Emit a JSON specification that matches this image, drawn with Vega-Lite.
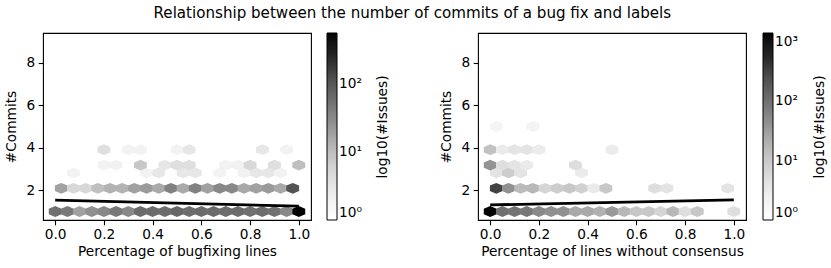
{
  "$schema": "https://vega.github.io/schema/vega-lite/v6.json",
  "background": "white",
  "padding": {"left": 4, "top": 6, "right": 5, "bottom": 5},
  "title": {"text": "Relationship between the number of commits of a bug fix and labels", "anchor": "middle", "dx": -3, "offset": 11},
  "datasets": {
    "hexL": [
      {"x":0,"y":1,"n":56},{"x":0.05,"y":1,"n":45},{"x":0.1,"y":1,"n":19},{"x":0.15,"y":1,"n":27},{"x":0.2,"y":1,"n":32},{"x":0.25,"y":1,"n":45},{"x":0.3,"y":1,"n":32},{"x":0.35,"y":1,"n":63},{"x":0.4,"y":1,"n":63},{"x":0.45,"y":1,"n":60},{"x":0.5,"y":1,"n":70},{"x":0.55,"y":1,"n":60},{"x":0.6,"y":1,"n":63},{"x":0.65,"y":1,"n":63},{"x":0.7,"y":1,"n":60},{"x":0.75,"y":1,"n":63},{"x":0.8,"y":1,"n":56},{"x":0.85,"y":1,"n":60},{"x":0.9,"y":1,"n":56},{"x":0.95,"y":1,"n":32},{"x":1,"y":1,"n":560},
      {"x":0.025,"y":2.0909,"n":19},{"x":0.075,"y":2.0909,"n":5},{"x":0.125,"y":2.0909,"n":5},{"x":0.175,"y":2.0909,"n":10},{"x":0.225,"y":2.0909,"n":13},{"x":0.275,"y":2.0909,"n":13},{"x":0.325,"y":2.0909,"n":19},{"x":0.375,"y":2.0909,"n":22},{"x":0.425,"y":2.0909,"n":16},{"x":0.475,"y":2.0909,"n":38},{"x":0.525,"y":2.0909,"n":16},{"x":0.575,"y":2.0909,"n":38},{"x":0.625,"y":2.0909,"n":19},{"x":0.675,"y":2.0909,"n":32},{"x":0.725,"y":2.0909,"n":32},{"x":0.775,"y":2.0909,"n":16},{"x":0.825,"y":2.0909,"n":19},{"x":0.875,"y":2.0909,"n":22},{"x":0.925,"y":2.0909,"n":16},{"x":0.975,"y":2.0909,"n":110},
      {"x":0.075,"y":2.8182,"n":2},{"x":0.375,"y":2.8182,"n":2},{"x":0.425,"y":2.8182,"n":3},{"x":0.525,"y":2.8182,"n":3},{"x":0.575,"y":2.8182,"n":3},{"x":0.675,"y":2.8182,"n":2},{"x":0.775,"y":2.8182,"n":2},{"x":0.825,"y":2.8182,"n":3},{"x":0.875,"y":2.8182,"n":3},{"x":0.925,"y":2.8182,"n":2},
      {"x":0.2,"y":3.1818,"n":2},{"x":0.25,"y":3.1818,"n":2},{"x":0.35,"y":3.1818,"n":8},{"x":0.45,"y":3.1818,"n":3},{"x":0.5,"y":3.1818,"n":4},{"x":0.55,"y":3.1818,"n":4},{"x":0.7,"y":3.1818,"n":2},{"x":0.75,"y":3.1818,"n":2},{"x":0.8,"y":3.1818,"n":5},{"x":0.9,"y":3.1818,"n":4},{"x":1,"y":3.1818,"n":10},
      {"x":0.2,"y":3.9091,"n":4},{"x":0.3,"y":3.9091,"n":2},{"x":0.35,"y":3.9091,"n":2},{"x":0.5,"y":3.9091,"n":2},{"x":0.55,"y":3.9091,"n":3},{"x":0.85,"y":3.9091,"n":3},{"x":0.95,"y":3.9091,"n":2}
    ],
    "hexR": [
      {"x":0,"y":1,"n":1400},{"x":0.05,"y":1,"n":100},{"x":0.1,"y":1,"n":90},{"x":0.15,"y":1,"n":83},{"x":0.2,"y":1,"n":52},{"x":0.25,"y":1,"n":43},{"x":0.3,"y":1,"n":43},{"x":0.35,"y":1,"n":24},{"x":0.4,"y":1,"n":24},{"x":0.45,"y":1,"n":20},{"x":0.5,"y":1,"n":35},{"x":0.55,"y":1,"n":17},{"x":0.6,"y":1,"n":11},{"x":0.65,"y":1,"n":11},{"x":0.7,"y":1,"n":7},{"x":0.75,"y":1,"n":17},{"x":0.8,"y":1,"n":5},{"x":0.85,"y":1,"n":11},{"x":1,"y":1,"n":5},
      {"x":0.025,"y":2.0909,"n":310},{"x":0.075,"y":2.0909,"n":43},{"x":0.125,"y":2.0909,"n":16},{"x":0.175,"y":2.0909,"n":17},{"x":0.225,"y":2.0909,"n":7},{"x":0.275,"y":2.0909,"n":9},{"x":0.325,"y":2.0909,"n":11},{"x":0.375,"y":2.0909,"n":8},{"x":0.425,"y":2.0909,"n":3},{"x":0.475,"y":2.0909,"n":11},{"x":0.675,"y":2.0909,"n":5},{"x":0.725,"y":2.0909,"n":4},{"x":0.975,"y":2.0909,"n":4},
      {"x":0.025,"y":2.8182,"n":4},{"x":0.075,"y":2.8182,"n":9},{"x":0.125,"y":2.8182,"n":4},{"x":0.375,"y":2.8182,"n":3},
      {"x":0,"y":3.1818,"n":40},{"x":0.05,"y":3.1818,"n":5},{"x":0.1,"y":3.1818,"n":4},{"x":0.15,"y":3.1818,"n":3},{"x":0.35,"y":3.1818,"n":5},
      {"x":0,"y":3.9091,"n":13},{"x":0.05,"y":3.9091,"n":3},{"x":0.1,"y":3.9091,"n":4},{"x":0.15,"y":3.9091,"n":4},{"x":0.2,"y":3.9091,"n":3},{"x":0.5,"y":3.9091,"n":3},
      {"x":0.025,"y":5,"n":2},{"x":0.175,"y":5,"n":2}
    ],
    "fitL": [{"x":0,"y":1.54},{"x":1,"y":1.25}],
    "fitR": [{"x":0,"y":1.31},{"x":1,"y":1.55}]
  },
  "hconcat": [
    {
      "width": 268, "height": 187,
      "encoding": {
        "x": {"field": "x", "type": "quantitative", "title": "Percentage of bugfixing lines", "scale": {"domain": [-0.05, 1.05], "nice": false, "zero": false}, "axis": {"values": [0,0.2,0.4,0.6,0.8,1], "format": ".1f"}}
      },
      "layer": [
        {
          "data": {"name": "hexL"},
          "mark": {"type": "point", "shape": "M1,-0.424L1,0.424L0,0.846L-1,0.424L-1,-0.424L0,-0.846Z", "filled": true, "opacity": 1, "size": 164, "strokeWidth": 0},
          "encoding": {
            "y": {"field": "y", "type": "quantitative", "title": "#Commits", "scale": {"domain": [0.6, 9.4], "nice": false, "zero": false}, "axis": {"values": [2,4,6,8], "orient": "left"}},
            "color": {"field": "n", "type": "quantitative",
              "scale": {"type": "log", "domain": [1, 2.206, 4.864, 10.73, 23.66, 52.19, 115.1, 253.8, 560], "range": ["#ffffff","#f0f0f0","#d9d9d9","#bdbdbd","#969696","#737373","#525252","#252525","#000000"]},
              "legend": {"orient": "none", "legendX": 284, "legendY": 0, "direction": "vertical", "gradientLength": 187, "gradientThickness": 10, "values": [1, 10, 100], "labelExpr": "datum.value == 1 ? '10⁰' : datum.value == 10 ? '10¹' : datum.value == 100 ? '10²' : '10³'", "title": null}}
          }
        },
        {"data": {"name": "fitL"}, "mark": {"type": "line", "color": "black", "strokeWidth": 2.8},
          "encoding": {
            "y": {"field": "y", "type": "quantitative", "scale": {"domain": [0.6, 9.4], "nice": false, "zero": false},
              "axis": {"orient": "right", "title": "log10(#Issues)", "labels": false, "ticks": false, "domain": false, "grid": false, "titleAngle": 270, "titleBaseline": "top", "titlePadding": 64}}
          }},
        {"data": {"values": [{"label": "r=-0.12"}]}, "mark": {"type": "text", "align": "right", "baseline": "alphabetic", "fontSize": 13.7, "color": "black"},
          "encoding": {"x": {"datum": 1.018}, "y": {"datum": 8.48, "scale": {"domain": [0.6, 9.4], "nice": false, "zero": false}, "axis": null}, "text": {"field": "label"}}}
      ],
      "resolve": {"scale": {"y": "independent"}, "axis": {"y": "independent"}}
    },
    {
      "width": 268, "height": 187,
      "encoding": {
        "x": {"field": "x", "type": "quantitative", "title": "Percentage of lines without consensus", "scale": {"domain": [-0.05, 1.05], "nice": false, "zero": false}, "axis": {"values": [0,0.2,0.4,0.6,0.8,1], "format": ".1f"}}
      },
      "layer": [
        {
          "data": {"name": "hexR"},
          "mark": {"type": "point", "shape": "M1,-0.424L1,0.424L0,0.846L-1,0.424L-1,-0.424L0,-0.846Z", "filled": true, "opacity": 1, "size": 164, "strokeWidth": 0},
          "encoding": {
            "y": {"field": "y", "type": "quantitative", "title": "#Commits", "scale": {"domain": [0.6, 9.4], "nice": false, "zero": false}, "axis": {"values": [2,4,6,8], "orient": "left"}},
            "color": {"field": "n", "type": "quantitative",
              "scale": {"type": "log", "domain": [1, 2.473, 6.115, 15.12, 37.4, 92.5, 228.7, 565.6, 1400], "range": ["#ffffff","#f0f0f0","#d9d9d9","#bdbdbd","#969696","#737373","#525252","#252525","#000000"]},
              "legend": {"orient": "none", "legendX": 285, "legendY": 0, "direction": "vertical", "gradientLength": 187, "gradientThickness": 10, "values": [1, 10, 100, 1000], "labelExpr": "datum.value == 1 ? '10⁰' : datum.value == 10 ? '10¹' : datum.value == 100 ? '10²' : '10³'", "title": null}}
          }
        },
        {"data": {"name": "fitR"}, "mark": {"type": "line", "color": "black", "strokeWidth": 2.8},
          "encoding": {
            "y": {"field": "y", "type": "quantitative", "scale": {"domain": [0.6, 9.4], "nice": false, "zero": false},
              "axis": {"orient": "right", "title": "log10(#Issues)", "labels": false, "ticks": false, "domain": false, "grid": false, "titleAngle": 270, "titleBaseline": "top", "titlePadding": 66}}
          }},
        {"data": {"values": [{"label": "r=0.04"}]}, "mark": {"type": "text", "align": "right", "baseline": "alphabetic", "fontSize": 13.7, "color": "black"},
          "encoding": {"x": {"datum": 1.0}, "y": {"datum": 8.48, "scale": {"domain": [0.6, 9.4], "nice": false, "zero": false}, "axis": null}, "text": {"field": "label"}}}
      ],
      "resolve": {"scale": {"y": "independent"}, "axis": {"y": "independent"}}
    }
  ],
  "spacing": 167,
  "bounds": "flush",
  "resolve": {"scale": {"color": "independent"}},
  "config": {
    "font": "DejaVu Sans",
    "view": {"stroke": "black", "strokeWidth": 1.1},
    "axis": {"domain": false, "grid": false, "tickColor": "black", "tickSize": 4.8, "tickWidth": 1.1, "labelColor": "black", "labelFontSize": 13.7, "titleFontSize": 13.7, "titleFontWeight": "normal", "titleColor": "black", "labelPadding": 3.5, "labelOverlap": false, "labelFlush": false},
    "axisX": {"titlePadding": 3, "labelPadding": 2.5},
    "axisLeft": {"titlePadding": 7},
    "legend": {"gradientStrokeColor": "black", "gradientStrokeWidth": 1, "labelFontSize": 13.7, "labelColor": "black", "labelOffset": 9, "padding": 0},
    "title": {"fontSize": 15.1, "fontWeight": "normal", "color": "black", "font": "DejaVu Sans"}
  }
}
